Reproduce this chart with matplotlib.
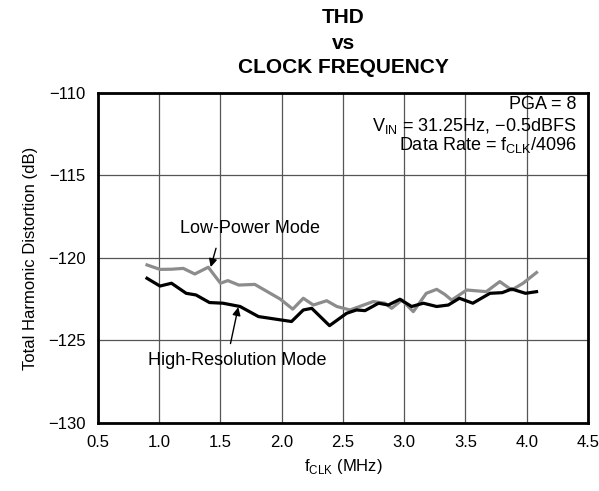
import matplotlib.pyplot as plt

plt.rcParams['font.family'] = ['Liberation Sans', 'DejaVu Sans']

# Low-Power Mode (gray)
lp_f = [0.90, 1.006, 1.10, 1.196, 1.29, 1.40, 1.50, 1.56, 1.65, 1.78, 1.85, 1.99,
        2.09, 2.176, 2.258, 2.367, 2.45, 2.557, 2.747, 2.843, 2.897, 2.98, 3.074,
        3.18, 3.265, 3.33, 3.387, 3.51, 3.67, 3.78, 3.877, 3.97, 4.08]
lp_thd = [-120.42, -120.69, -120.68, -120.63, -120.97, -120.56, -121.53, -121.37,
          -121.64, -121.6, -121.9, -122.5, -123.1, -122.44, -122.85, -122.59,
          -122.94, -123.15, -122.64, -122.74, -123.05, -122.55, -123.25, -122.14,
          -121.9, -122.2, -122.55, -121.94, -122.04, -121.43, -121.94, -121.53,
          -120.88]

# High-Resolution Mode (black)
hr_f = [0.90, 1.006, 1.10, 1.22, 1.30, 1.41, 1.52, 1.66, 1.81, 1.99, 2.08, 2.176,
        2.245, 2.39, 2.53, 2.61, 2.68, 2.79, 2.87, 2.965, 3.06, 3.156, 3.265,
        3.36, 3.45, 3.56, 3.70, 3.80, 3.877, 3.99, 4.08]
hr_thd = [-121.23, -121.7, -121.53, -122.14, -122.24, -122.7, -122.74, -122.94,
          -123.55, -123.75, -123.85, -123.15, -123.05, -124.1, -123.35, -123.15,
          -123.19, -122.74, -122.85, -122.5, -122.94, -122.74, -122.94, -122.85,
          -122.44, -122.74, -122.14, -122.1, -121.88, -122.14, -122.04]

xticks = [0.5, 1.0, 1.5, 2.0, 2.5, 3.0, 3.5, 4.0, 4.5]
yticks = [-130, -125, -120, -115, -110]

fig = plt.figure(figsize=(5.99, 4.91), dpi=100)
ax = fig.add_axes([0.1636, 0.1385, 0.818, 0.6721])

ax.plot(lp_f, lp_thd, color='#8c8c8c', lw=2.3, solid_joinstyle='round')
ax.plot(hr_f, hr_thd, color='black', lw=2.3, solid_joinstyle='round')

ax.set_xlim(0.5, 4.5)
ax.set_ylim(-130, -110)
ax.set_xticks(xticks)
ax.set_xticklabels(['%.1f' % v for v in xticks])
ax.set_yticks(yticks)
ax.set_yticklabels(['\u2212%d' % -v for v in yticks])
ax.tick_params(length=0, labelsize=12, pad=9)
ax.grid(True, color='#555555', lw=0.9)
for s in ax.spines.values():
    s.set_linewidth(2)

ax.set_xlabel('f$_{\\mathregular{CLK}}$ (MHz)', fontsize=12, labelpad=5)
ax.set_ylabel('Total Harmonic Distortion (dB)', fontsize=12, labelpad=7)

fig.text(0.573, 0.965, 'THD', ha='center', va='center', fontsize=15, fontweight='bold')
fig.text(0.573, 0.912, 'vs', ha='center', va='center', fontsize=15, fontweight='bold')
fig.text(0.573, 0.863, 'CLOCK FREQUENCY', ha='center', va='center', fontsize=15, fontweight='bold')

ax.text(4.41, -110.7, 'PGA = 8', ha='right', va='center', fontsize=13)
ax.text(4.41, -111.97, 'V$_{\\mathregular{IN}}$ = 31.25Hz, \u22120.5dBFS', ha='right', va='center', fontsize=13)
ax.text(4.41, -113.17, 'Data Rate = f$_{\\mathregular{CLK}}$/4096', ha='right', va='center', fontsize=13)

ax.annotate('Low-Power Mode', xy=(1.42, -120.55), xytext=(1.74, -118.24),
            ha='center', va='center', fontsize=13,
            arrowprops=dict(arrowstyle='-|>', color='black', lw=1, shrinkA=6, shrinkB=0,
                            mutation_scale=12, relpos=(0.28, 0)))
ax.annotate('High-Resolution Mode', xy=(1.645, -122.98), xytext=(1.64, -126.2),
            ha='center', va='center', fontsize=13,
            arrowprops=dict(arrowstyle='-|>', color='black', lw=1, shrinkA=4, shrinkB=0,
                            mutation_scale=12, relpos=(0.45, 1)))

fig.savefig('out.png', dpi=100)
